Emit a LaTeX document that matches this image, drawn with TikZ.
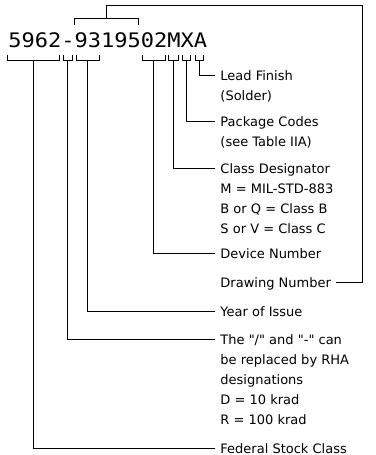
\documentclass[tikz,border=0pt]{standalone}
\usepackage{fontspec}
\setmainfont{DejaVu Sans}
\newfontfamily\labfamily{DejaVu Sans}
\newfontfamily\pnfamily[FakeStretch=1.1]{DejaVu Sans Mono}
\newcommand\labfont{\labfamily\fontsize{13}{20}\selectfont}
\newcommand\pnfont{\pnfamily\fontsize{20}{24}\selectfont}
\newcommand\fl{\rule{0pt}{12pt}}
\newcommand\brk[3]{%
  \draw (#1,55) -- (#1,60) -- (#2,60) -- (#2,55);
  \coordinate (#3) at ({(#1+#2)/2},60);}
\begin{document}
\begin{tikzpicture}[x=1pt,y=-1pt,line width=0.9pt,
  lab/.style={font=\labfont, anchor=north west, inner sep=0pt, align=left},
  pn/.style={font=\pnfont, anchor=base west, inner sep=0pt},
  conn/.style={line width=0.9pt}]
\useasboundingbox (0,0) rectangle (375,455);
\node[pn] (pn) at (8,47.5) {5962-9319502MXA};

% bottom brackets
\brk{7}{59}{bFSC}
\brk{63}{72}{bDash}
\brk{76}{99}{bYear}
\brk{142}{165}{bDev}
\brk{168}{178}{bM}
\brk{182}{190}{bX}
\brk{195}{203}{bA}

% top bracket (drawing number)
\draw (74,25) -- (74,18) -- (138,18) -- (138,25);
\coordinate (tb) at (106,18);
\coordinate (corner) at (362,5);

% labels
\node[lab] (LF)  at (220,67.75)  {\fl Lead Finish\\(Solder)};
\node[lab] (PC)  at (220,113.75) {\fl Package Codes\\(see Table IIA)};
\node[lab] (CD)  at (220,160.75) {\fl Class Designator\\M = MIL-STD-883\\B or Q = Class B\\S or V = Class C};
\node[lab] (DN)  at (220,245.75) {\fl Device Number};
\node[lab] (DrN) at (220,274.75) {\fl Drawing Number};
\node[lab] (YI)  at (220,303.75) {\fl Year of Issue};
\node[lab] (RHA) at (220,331.75) {\fl The "/" and "-" can\\be replaced by RHA\\designations\\D = 10 krad\\R = 100 krad};
\node[lab] (FSC) at (220,440.75) {\fl Federal Stock Class};

% connectors
\draw[conn] (bA)    |- ([xshift=-5pt,yshift=-7.25pt]LF.north west);
\draw[conn] (bX)    |- ([xshift=-5pt,yshift=-7.25pt]PC.north west);
\draw[conn] (bM)    |- ([xshift=-5pt,yshift=-7.25pt]CD.north west);
\draw[conn] (bDev)  |- ([xshift=-5pt,yshift=-7.25pt]DN.north west);
\draw[conn] (bYear) |- ([xshift=-5pt,yshift=-7.25pt]YI.north west);
\draw[conn] (bDash) |- ([xshift=-5pt,yshift=-7.25pt]RHA.north west);
\draw[conn] (bFSC)  |- ([xshift=-5pt,yshift=-7.25pt]FSC.north west);
\draw[conn] (tb) |- (corner) |- ([xshift=5pt,yshift=-7.25pt]DrN.north east);
\end{tikzpicture}
\end{document}
